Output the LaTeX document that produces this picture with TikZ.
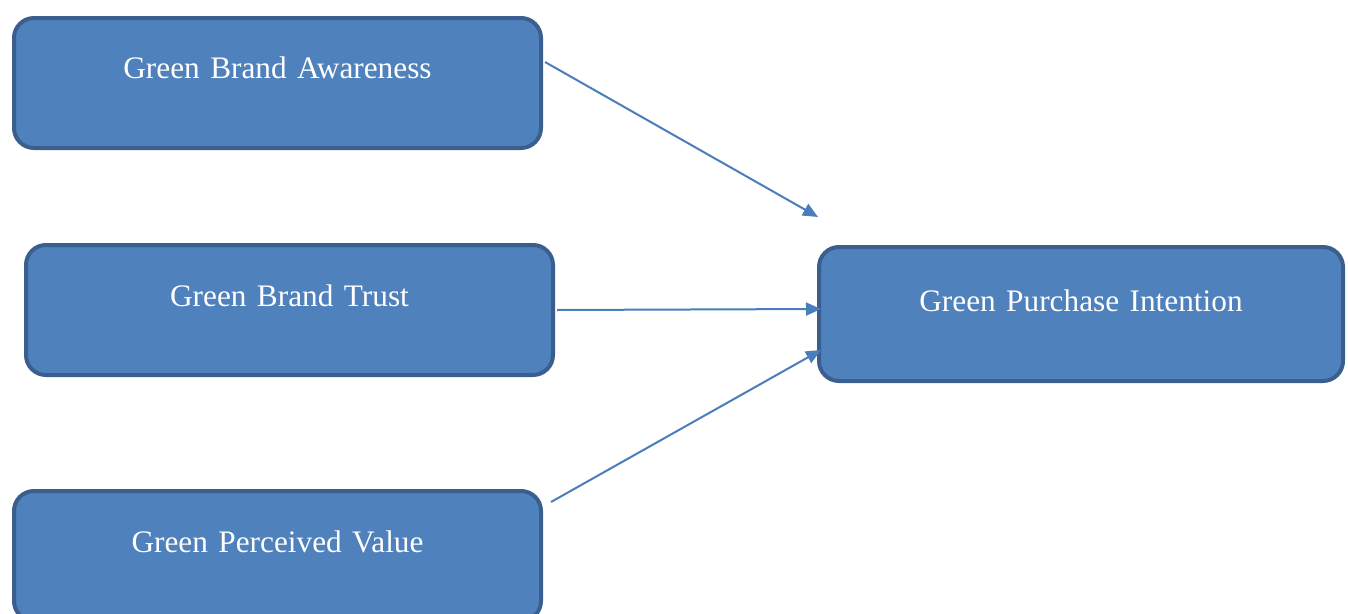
\documentclass[tikz,border=0pt]{standalone}
\usepackage{fontspec}
\setmainfont{Liberation Serif}
\usetikzlibrary{arrows.meta,calc}
\definecolor{boxfill}{HTML}{4F81BD}
\definecolor{boxline}{HTML}{3A5F8F}
\definecolor{arrowcol}{HTML}{4A7EBB}
\tikzset{
  factor/.style={draw=boxline, fill=boxfill, line width=4pt, rounded corners=20pt,
    inner sep=0pt, text=white, font=\fontsize{31.3}{37}\selectfont,
    minimum width=527pt, text width=520pt, align=center},
  link/.style={draw=arrowcol, line width=2pt, -{Triangle[length=15pt,width=13pt]}}
}
\begin{document}
\begin{tikzpicture}[x=1pt,y=-1pt]
\useasboundingbox (0,0) rectangle (1348,613);
% boxes: text height/depth set so the baseline sits where the reference has it
\node[factor, text height=60pt, text depth=70pt, anchor=north west] (gba) at (12,16) {Green Brand Awareness};
\node[factor, text height=61pt, text depth=69pt, anchor=north west] (gbt) at (24,243) {Green Brand Trust};
\node[factor, text height=61pt, text depth=69pt, anchor=north west] (gpv) at (12,489) {Green Perceived Value};
\node[factor, minimum width=524pt, text width=518pt, text height=64pt, text depth=70pt, anchor=north west] (gpi) at (817,245) {Green Purchase Intention};
% connectors
\coordinate (s1) at ($(gba.east)+(2,-21)$);
\coordinate (t1) at ($(gpi.west)+(1,-97)$);
\coordinate (s2) at ($(gbt.east)+(2,0)$);
\coordinate (t2) at ($(gpi.west)+(4,-5)$);
\coordinate (s3) at ($(gpv.east)+(8,-54)$);
\coordinate (t3) at ($(gpi.west)+(4,36)$);
\draw[link] (s1) -- (t1);
\draw[link] (s2) -- (t2);
\draw[link] (s3) -- (t3);
\end{tikzpicture}
\end{document}
